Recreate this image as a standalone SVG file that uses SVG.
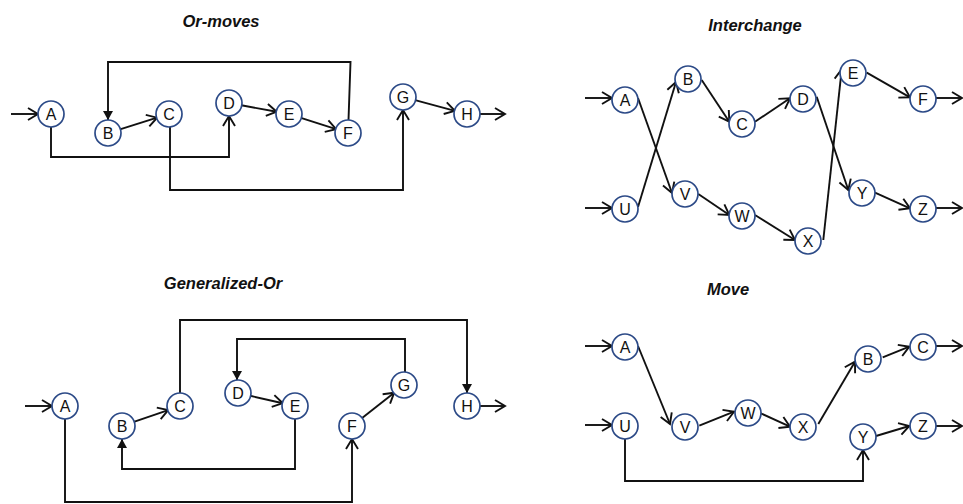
<svg xmlns="http://www.w3.org/2000/svg" width="963" height="504" viewBox="0 0 963 504">
<style>
.title{font-family:"Liberation Sans",Arial,sans-serif;font-size:16.5px;font-weight:bold;font-style:italic;fill:#111;text-anchor:middle}
.node circle{fill:#fff;stroke:#2c4a87;stroke-width:1.7}
.node text{font-family:"Liberation Sans",Arial,sans-serif;font-size:16px;fill:#111;text-anchor:middle}
.edge{fill:none;stroke:#111;stroke-width:1.9;marker-end:url(#open)}
.edgef{fill:none;stroke:#111;stroke-width:1.9;marker-end:url(#fill)}
</style>
<defs>
<marker id="open" markerUnits="userSpaceOnUse" markerWidth="14" markerHeight="14" viewBox="-12 -7 14 14" refX="0" refY="0" orient="auto" overflow="visible">
<path d="M-10,-6 L0,0 L-10,6" fill="none" stroke="#111" stroke-width="1.9"/>
</marker>
<marker id="fill" markerUnits="userSpaceOnUse" markerWidth="12" markerHeight="12" viewBox="-10 -6 11 12" refX="0" refY="0" orient="auto" overflow="visible">
<path d="M-9,-5 L0,0 L-9,5 Z" fill="#111"/>
</marker>
</defs>
<rect width="963" height="504" fill="#fff"/>

<text class="title" x="221" y="27">Or-moves</text>
<text class="title" x="755" y="31">Interchange</text>
<text class="title" x="223" y="289">Generalized-Or</text>
<text class="title" x="728" y="295">Move</text>

<g id="connectors">
<!-- Or-moves -->
<path class="edge" d="M11,114 L38,114"/>
<path class="edge" d="M119.9,129.3 L157.1,117.7"/>
<path class="edge" d="M241.3,105.3 L276.7,111.7"/>
<path class="edge" d="M300.9,117.8 L336.1,129.2"/>
<path class="edge" d="M415.1,100.2 L454.9,110.8"/>
<path class="edge" d="M480,114 L505,114"/>
<path class="edgef" d="M348.5,120 L350.5,62 L108,62 L108,120"/>
<path class="edge" d="M51,127 L51,157 L229,157 L229,116"/>
<path class="edge" d="M170,127 L170,190 L403,190 L403,110"/>
<!-- Interchange -->
<path class="edge" d="M585,98 L612,98"/>
<path class="edge" d="M585,208 L612,208"/>
<path class="edge" d="M638,98 L672,193"/>
<path class="edge" d="M638,207 L676,82"/>
<path class="edge" d="M701.7,80 L729.3,121.7"/>
<path class="edge" d="M755,121.7 L790,98.3"/>
<path class="edge" d="M816.7,96.7 L848.3,190"/>
<path class="edge" d="M823.3,240 L841.7,69.3"/>
<path class="edge" d="M866.7,72.7 L910,97.3"/>
<path class="edge" d="M698.3,194 L729.3,215"/>
<path class="edge" d="M755,215 L795,240"/>
<path class="edge" d="M875,192.7 L910,208.3"/>
<path class="edge" d="M936,98 L962,98"/>
<path class="edge" d="M936,208 L962,208"/>
<!-- Generalized-Or -->
<path class="edge" d="M25,406 L52,406"/>
<path class="edge" d="M133.8,421.9 L168.2,410.1"/>
<path class="edge" d="M250.2,395.8 L282.8,403.2"/>
<path class="edge" d="M361.8,418.3 L394.2,392.7"/>
<path class="edge" d="M480,406 L505,406"/>
<path class="edgef" d="M180,393 L180,320 L467,320 L467,393"/>
<path class="edgef" d="M405,372 L405,339 L237,339 L237,380"/>
<path class="edgef" d="M295,419 L295,469 L122,469 L122,439"/>
<path class="edge" d="M65,419 L65,502 L352,502 L352,439"/>
<!-- Move -->
<path class="edge" d="M585,346 L612,346"/>
<path class="edge" d="M585,425 L612,425"/>
<path class="edge" d="M638,346 L670,424"/>
<path class="edge" d="M699.3,425.7 L734,411.7"/>
<path class="edge" d="M760.7,413.3 L790,426.7"/>
<path class="edge" d="M818.3,424 L855,361.7"/>
<path class="edge" d="M882.7,357.3 L909.3,346.7"/>
<path class="edge" d="M876,436 L909.3,426"/>
<path class="edge" d="M625,439 L625,481 L863,481 L863,450"/>
<path class="edge" d="M936,346 L962,346"/>
<path class="edge" d="M936,426 L962,426"/>
</g>

<!-- Or-moves nodes -->
<g id="om-A" class="node"><circle cx="51" cy="114" r="13"/><text x="51" y="119.8">A</text></g>
<g id="om-B" class="node"><circle cx="108" cy="133" r="13"/><text x="108" y="138.8">B</text></g>
<g id="om-C" class="node"><circle cx="169" cy="114" r="13"/><text x="169" y="119.8">C</text></g>
<g id="om-D" class="node"><circle cx="229" cy="103" r="13"/><text x="229" y="108.8">D</text></g>
<g id="om-E" class="node"><circle cx="289" cy="114" r="13"/><text x="289" y="119.8">E</text></g>
<g id="om-F" class="node"><circle cx="348" cy="133" r="13"/><text x="348" y="138.8">F</text></g>
<g id="om-G" class="node"><circle cx="403" cy="97" r="13"/><text x="403" y="102.8">G</text></g>
<g id="om-H" class="node"><circle cx="467" cy="114" r="13"/><text x="467" y="119.8">H</text></g>

<!-- Interchange nodes -->
<g id="ic-A" class="node"><circle cx="625" cy="100" r="13"/><text x="625" y="105.8">A</text></g>
<g id="ic-B" class="node"><circle cx="688" cy="79" r="13"/><text x="688" y="84.8">B</text></g>
<g id="ic-C" class="node"><circle cx="742" cy="124" r="13"/><text x="742" y="129.8">C</text></g>
<g id="ic-D" class="node"><circle cx="803" cy="99" r="13"/><text x="803" y="104.8">D</text></g>
<g id="ic-E" class="node"><circle cx="853" cy="73" r="13"/><text x="853" y="78.8">E</text></g>
<g id="ic-F" class="node"><circle cx="923" cy="99" r="13"/><text x="923" y="104.8">F</text></g>
<g id="ic-U" class="node"><circle cx="625" cy="209" r="13"/><text x="625" y="214.8">U</text></g>
<g id="ic-V" class="node"><circle cx="685" cy="194" r="13"/><text x="685" y="199.8">V</text></g>
<g id="ic-W" class="node"><circle cx="742" cy="216" r="13"/><text x="742" y="221.8">W</text></g>
<g id="ic-X" class="node"><circle cx="808" cy="241" r="13"/><text x="808" y="246.8">X</text></g>
<g id="ic-Y" class="node"><circle cx="862" cy="193" r="13"/><text x="862" y="198.8">Y</text></g>
<g id="ic-Z" class="node"><circle cx="923" cy="209" r="13"/><text x="923" y="214.8">Z</text></g>

<!-- Generalized-Or nodes -->
<g id="go-A" class="node"><circle cx="65" cy="406" r="13"/><text x="65" y="411.8">A</text></g>
<g id="go-B" class="node"><circle cx="122" cy="426" r="13"/><text x="122" y="431.8">B</text></g>
<g id="go-C" class="node"><circle cx="180" cy="406" r="13"/><text x="180" y="411.8">C</text></g>
<g id="go-D" class="node"><circle cx="238" cy="393" r="13"/><text x="238" y="398.8">D</text></g>
<g id="go-E" class="node"><circle cx="295" cy="406" r="13"/><text x="295" y="411.8">E</text></g>
<g id="go-F" class="node"><circle cx="352" cy="426" r="13"/><text x="352" y="431.8">F</text></g>
<g id="go-G" class="node"><circle cx="404" cy="385" r="13"/><text x="404" y="390.8">G</text></g>
<g id="go-H" class="node"><circle cx="467" cy="406" r="13"/><text x="467" y="411.8">H</text></g>

<!-- Move nodes -->
<g id="mv-A" class="node"><circle cx="625" cy="347" r="13"/><text x="625" y="352.8">A</text></g>
<g id="mv-U" class="node"><circle cx="625" cy="426" r="13"/><text x="625" y="431.8">U</text></g>
<g id="mv-V" class="node"><circle cx="685" cy="427" r="13"/><text x="685" y="432.8">V</text></g>
<g id="mv-W" class="node"><circle cx="748" cy="413" r="13"/><text x="748" y="418.8">W</text></g>
<g id="mv-X" class="node"><circle cx="803" cy="427" r="13"/><text x="803" y="432.8">X</text></g>
<g id="mv-B" class="node"><circle cx="868" cy="359" r="13"/><text x="868" y="364.8">B</text></g>
<g id="mv-C" class="node"><circle cx="923" cy="347" r="13"/><text x="923" y="352.8">C</text></g>
<g id="mv-Y" class="node"><circle cx="863" cy="437" r="13"/><text x="863" y="442.8">Y</text></g>
<g id="mv-Z" class="node"><circle cx="923" cy="426" r="13"/><text x="923" y="431.8">Z</text></g>
</svg>
